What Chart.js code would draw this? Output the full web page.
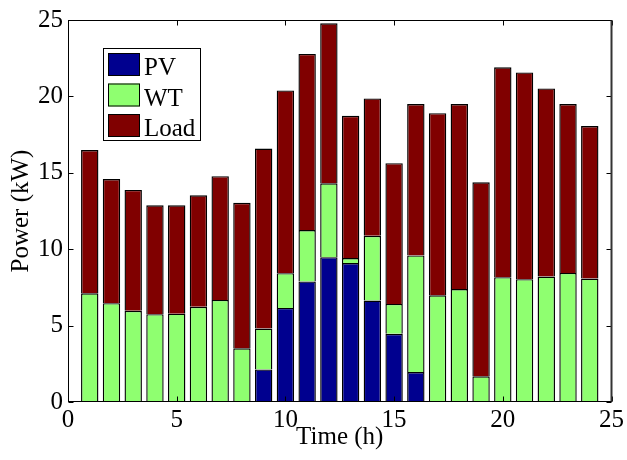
<!DOCTYPE html>
<html>
<head>
<meta charset="utf-8">
<script src="https://cdn.jsdelivr.net/npm/chart.js@4"></script>
<style>
  html, body { margin: 0; background: #fff; }
</style>
</head>
<body>
<canvas id="c" width="627" height="460"></canvas>
<script>
// datos (kW por hora, cada tramo de la pila)
const hours = [1, 2, 3, 4, 5, 6, 7, 8, 9, 10, 11, 12, 13, 14, 15, 16, 17, 18, 19, 20, 21, 22, 23, 24];
const pv   = [0, 0, 0, 0, 0, 0, 0, 0, 2.13, 6.16, 7.89, 9.48, 9.09, 6.64, 4.46, 1.96, 0, 0, 0, 0, 0, 0, 0, 0];
const wt   = [7.11, 6.47, 5.97, 5.75, 5.78, 6.23, 6.68, 3.51, 2.68, 2.27, 3.36, 4.83, 0.33, 4.24, 1.96, 7.63, 6.98, 7.39, 1.68, 8.17, 8.04, 8.21, 8.45, 8.08];
const load = [9.38, 8.12, 7.91, 7.12, 7.09, 7.30, 8.10, 9.53, 11.78, 11.96, 11.53, 10.47, 9.31, 8.99, 9.21, 9.91, 11.92, 12.11, 12.70, 13.73, 13.53, 12.31, 11.05, 9.98];
const xTicks = [0, 5, 10, 15, 20, 25];
const yTicks = [0, 5, 10, 15, 20, 25];

const serif = "'Liberation Serif', 'Times New Roman', serif";
const font = { family: serif, size: 25 };

const points = arr => hours.map((h, i) => ({ x: h, y: arr[i] }));

// caja estilo MATLAB: borde, marcas hacia dentro y leyenda dentro del area
const boxPlugin = {
    id: 'matlabBox',
    afterDatasetsDraw(chart) {
        const { ctx, chartArea: a, scales } = chart;
        const L = Math.round(a.left) + 0.5, R = Math.round(a.right) - 0.5;
        const T = Math.round(a.top) + 0.5, B = Math.round(a.bottom) - 0.5;
        const tl = 5;
        ctx.save();
        ctx.strokeStyle = '#000';
        ctx.lineWidth = 1;
        ctx.beginPath();
        xTicks.forEach(v => {
            const px = Math.round(scales.x.getPixelForValue(v)) + 0.5;
            ctx.moveTo(px, B); ctx.lineTo(px, B - tl);
            ctx.moveTo(px, T); ctx.lineTo(px, T + tl);
        });
        yTicks.forEach(v => {
            const py = Math.round(scales.y.getPixelForValue(v)) + 0.5;
            ctx.moveTo(L, py); ctx.lineTo(L + tl, py);
            ctx.moveTo(R, py); ctx.lineTo(R - tl, py);
        });
        ctx.stroke();
        ctx.strokeRect(L, T, R - L, B - T);
        // borde derecho algo mas grueso, como en la figura
        ctx.strokeStyle = '#333';
        ctx.lineWidth = 2;
        ctx.beginPath();
        ctx.moveTo(R, T); ctx.lineTo(R, B);
        ctx.stroke();

        // leyenda
        ctx.strokeStyle = '#000';
        ctx.lineWidth = 1;
        const bx = a.left + 35, by = a.top + 28;
        ctx.fillStyle = '#fff';
        ctx.fillRect(bx, by, 98, 93);
        ctx.strokeRect(bx + 0.5, by + 0.5, 97, 92);
        ctx.font = `25px ${serif}`;
        ctx.textBaseline = 'alphabetic';
        chart.data.datasets.forEach((ds, i) => {
            const sy = by + 5 + i * 30.5;
            ctx.fillStyle = ds.backgroundColor;
            ctx.fillRect(bx + 5, sy, 32, 23);
            ctx.strokeRect(bx + 5.5, sy + 0.5, 31, 22);
            ctx.fillStyle = '#000';
            ctx.fillText(ds.label, bx + 41, sy + 22);
        });
        ctx.restore();
    }
};

const common = {
    borderColor: '#000',
    borderWidth: 1.4,
    barPercentage: 0.8,
    categoryPercentage: 1,
    grouped: false
};

new Chart(document.getElementById('c'), {
    type: 'bar',
    data: {
        datasets: [
            { label: 'PV', data: points(pv), backgroundColor: '#00008f', ...common },
            { label: 'WT', data: points(wt), backgroundColor: '#8fff70', ...common },
            { label: 'Load', data: points(load), backgroundColor: '#800000', ...common }
        ]
    },
    options: {
        responsive: false,
        animation: false,
        devicePixelRatio: 1,
        layout: { padding: { top: 15, right: 13, left: 0, bottom: 0 } },
        plugins: { legend: { display: false }, tooltip: { enabled: false } },
        scales: {
            x: {
                type: 'linear', min: 0, max: 25, offset: false,
                grid: { display: false, drawTicks: false },
                border: { display: false },
                ticks: { font, color: '#000', padding: 3, maxRotation: 0 },
                afterBuildTicks: s => { s.ticks = xTicks.map(v => ({ value: v })); },
                afterFit: s => { s.height = 58; },
                title: { display: true, text: 'Time (h)', font, color: '#000', padding: { top: 0, bottom: 8 } }
            },
            y: {
                stacked: true, min: 0, max: 25,
                grid: { display: false, drawTicks: false },
                border: { display: false },
                ticks: { font, color: '#000', padding: 5 },
                afterBuildTicks: s => { s.ticks = yTicks.map(v => ({ value: v })); },
                afterFit: s => { s.width = 68; },
                title: { display: true, text: 'Power (kW)', font, color: '#000', padding: { top: 6, bottom: 0 } }
            }
        }
    },
    plugins: [boxPlugin]
});
</script>
</body>
</html>
